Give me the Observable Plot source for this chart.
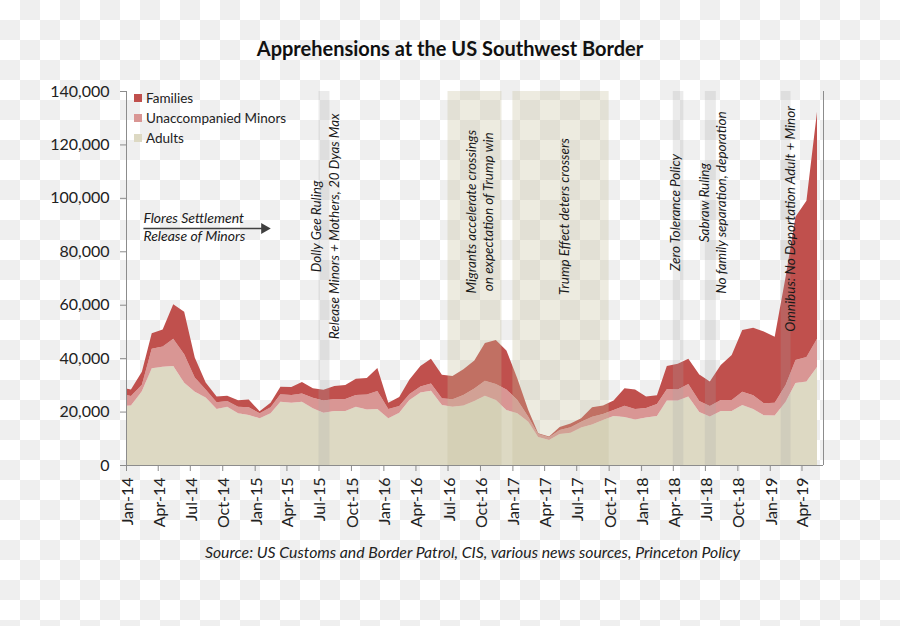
<!DOCTYPE html>
<html>
<head>
<meta charset="utf-8">
<script src="https://cdn.jsdelivr.net/npm/d3@7"></script>
<script src="https://cdn.jsdelivr.net/npm/@observablehq/plot@0.6"></script>
<style>
  html, body { margin: 0; padding: 0; }
  body {
    width: 900px; height: 626px; overflow: hidden;
    background: repeating-conic-gradient(#efefef 0 25%, #ffffff 0 50%) 0 0 / 40px 40px;
    font-family: Lato, "Open Sans", sans-serif; color: #1a1a1a;
  }
  #wrap { position: relative; width: 900px; height: 626px; }
  #title { height: 72px; box-sizing: border-box; padding-top: 36px; line-height: 24px;
    text-align: center; font-weight: bold; font-size: 20px; color: #111; }
  #legend { position: absolute; left: 134px; top: 88px; font-size: 13.5px; color: #222; }
  .item { height: 20px; line-height: 20px; display: flex; align-items: center; }
  .sw { width: 8px; height: 8px; margin-right: 4px; }
  #caption { padding-left: 45px; text-align: center; font-style: italic; font-size: 15.8px;
    line-height: 20px; margin-top: 7px; color: #222; }
  #chart svg { display: block; }
</style>
</head>
<body>
<div id="wrap">
  <div id="title">Apprehensions at the US Southwest Border</div>
  <div id="chart"></div>
  <div id="legend"></div>
  <div id="caption">Source: US Customs and Border Patrol, CIS, various news sources, Princeton Policy</div>
</div>
<script>
// ---- data ----
const months = [
  "2013-12",
  "2014-01","2014-02","2014-03","2014-04","2014-05","2014-06","2014-07","2014-08","2014-09","2014-10","2014-11","2014-12",
  "2015-01","2015-02","2015-03","2015-04","2015-05","2015-06","2015-07","2015-08","2015-09","2015-10","2015-11","2015-12",
  "2016-01","2016-02","2016-03","2016-04","2016-05","2016-06","2016-07","2016-08","2016-09","2016-10","2016-11","2016-12",
  "2017-01","2017-02","2017-03","2017-04","2017-05","2017-06","2017-07","2017-08","2017-09","2017-10","2017-11","2017-12",
  "2018-01","2018-02","2018-03","2018-04","2018-05","2018-06","2018-07","2018-08","2018-09","2018-10","2018-11","2018-12",
  "2019-01","2019-02","2019-03","2019-04","2019-05"
];
const adults = [
  22000,
  22300, 27600, 36200, 36800, 37100, 30800, 27400, 25300, 21000, 21800, 19400, 18700,
  17500, 19400, 23700, 23300, 23700, 21200, 19600, 20200, 20200, 21800, 20800, 21000,
  17500, 19600, 24300, 27100, 27800, 22500, 21800, 22300, 24000, 25900, 24300, 20600,
  19400, 16200, 10500, 9400, 11600, 12100, 14000, 15200, 16800, 18300, 18000, 17000,
  17800, 18300, 24100, 24100, 25600, 19800, 18200, 20200, 20200, 22500, 21000, 18600,
  18500, 23700, 30700, 31300, 36700
];
const minors = [
  4800,
  3500, 2400, 7300, 7600, 10200, 10700, 5400, 3000, 2500, 2200, 2400, 2900,
  1900, 2200, 2800, 2900, 3100, 4000, 4500, 4500, 4500, 4400, 5600, 6700,
  3500, 2500, 2300, 2300, 2700, 2500, 2800, 3900, 4600, 5600, 6000, 7700,
  4900, 1900, 1100, 1000, 1500, 2000, 2200, 2900, 2300, 2300, 4200, 4000,
  3500, 4500, 4300, 4200, 4700, 4200, 3900, 4100, 4100, 4900, 5100, 4500,
  4800, 6200, 8600, 9100, 10600
];
const families = [
  2200,
  2500, 4900, 5800, 6300, 12900, 15900, 7400, 2600, 2100, 1900, 2400, 2900,
  700, 1700, 2800, 3000, 4300, 3500, 4100, 4900, 5200, 6100, 6200, 8600,
  2300, 3400, 5400, 7700, 9300, 8800, 8700, 9600, 10500, 14200, 16500, 14600,
  8100, 2500, 300, 300, 1100, 1400, 1300, 3500, 3200, 3500, 6500, 7300,
  4300, 3300, 8700, 9600, 9500, 9900, 9200, 13100, 16900, 23100, 25300, 26900,
  24700, 40600, 53600, 58500, 84900
];
const seriesNames = ["Adults", "Unaccompanied Minors", "Families"];
const seriesColors = ["#ddd9c3", "#d99694", "#c0504d"];
const legendOrder = ["Families", "Unaccompanied Minors", "Adults"];
const tickLabels = ["Jan-14","Apr-14","Jul-14","Oct-14","Jan-15","Apr-15","Jul-15","Oct-15",
  "Jan-16","Apr-16","Jul-16","Oct-16","Jan-17","Apr-17","Jul-17","Oct-17",
  "Jan-18","Apr-18","Jul-18","Oct-18","Jan-19","Apr-19"];
const yTicks = [0, 20000, 40000, 60000, 80000, 100000, 120000, 140000];
const grayBands = [["2015-07-01","2015-08-01"],["2018-04-01","2018-05-01"],["2018-07-01","2018-08-01"],["2019-02-01","2019-03-01"]];
const beigeBands = [["2016-07-01","2016-12-01"],["2017-01-01","2017-10-01"]];
const notes = [
  {date: "2015-07-16", value: 89500, text: "Dolly Gee Ruling\nRelease Minors + Mothers, 20 Dyas Max"},
  {date: "2016-09-26", value: 95000, text: "Migrants accelerate crossings\non expectation of Trump win"},
  {date: "2017-05-23", value: 93200, text: "Trump Effect deters crossers"},
  {date: "2018-04-04", value: 94700, text: "Zero Tolerance Policy"},
  {date: "2018-07-20", value: 98400, text: "Sabraw Ruling\nNo family separation, deporation"},
  {date: "2019-02-25", value: 92300, text: "Omnibus: No Deportation Adult + Minor"}
];
const flores = {from: "2014-02-18", to: "2015-01-27", value: 88700, top: "Flores Settlement", bottom: "Release of Minors"};

// ---- build ----
const parseMonth = d3.utcParse("%Y-%m");
const parseDay = d3.utcParse("%Y-%m-%d");
const parseLabel = d3.utcParse("%b-%y");
const midMonth = s => { const d = parseMonth(s); return new Date(Date.UTC(d.getUTCFullYear(), d.getUTCMonth(), 15)); };
const valuesBySeries = {"Adults": adults, "Unaccompanied Minors": minors, "Families": families};
const rows = [];
for (const s of seriesNames) {
  months.forEach((m, j) => rows.push({date: midMonth(m), series: s, value: valuesBySeries[s][j]}));
}
const ticks = tickLabels.map(l => ({label: l, date: parseLabel(l)}));
const xStart = parseDay("2014-01-01"), xEnd = parseDay("2019-06-01");
const band = b => ({start: parseDay(b[0]), end: parseDay(b[1])});
const axisGray = "#8c8c8c";
const floresRow = {x1: parseDay(flores.from), x2: parseDay(flores.to), y: flores.value};

const chart = Plot.plot({
  width: 900, height: 463,
  marginLeft: 126, marginRight: 77, marginTop: 19, marginBottom: 70,
  style: {background: "transparent", fontFamily: "Lato, 'Open Sans', sans-serif", overflow: "visible"},
  x: {type: "utc", domain: [xStart, xEnd]},
  y: {domain: [0, 140000]},
  color: {domain: seriesNames, range: seriesColors},
  marks: [
    Plot.areaY(rows, {x: "date", y: "value", z: "series", fill: "series", order: seriesNames, clip: true}),
    Plot.rect(beigeBands.map(band), {x1: "start", x2: "end", fill: "#c4bd97", fillOpacity: 0.3}),
    Plot.rect(grayBands.map(band), {x1: "start", x2: "end", fill: "#a6a6a6", fillOpacity: 0.22}),
    Plot.ruleX([xStart], {stroke: axisGray}),
    Plot.ruleX([xEnd], {stroke: axisGray}),
    Plot.ruleY([0], {stroke: axisGray}),
    Plot.axisY({ticks: yTicks, tickFormat: d3.format(","), tickSize: 6, tickPadding: 11,
      fontSize: 16, stroke: axisGray, fill: "#222", label: null}),
    Plot.axisX({ticks: ticks.map(t => t.date), tickSize: 6, tickFormat: () => "", stroke: axisGray, label: null}),
    Plot.text(ticks, {x: "date", frameAnchor: "bottom", text: "label", rotate: -90, textAnchor: "end",
      dy: 12, dx: 6.5, fontSize: 16, fill: "#222"}),
    Plot.text(notes, {x: d => parseDay(d.date), y: "value", text: "text", rotate: -90,
      fontStyle: "italic", fontSize: 13.5, lineHeight: 1.3, fill: "#1a1a1a"}),
    Plot.link([floresRow], {x1: "x1", x2: "x2", y1: "y", y2: "y", stroke: "#404040", strokeWidth: 1.6}),
    Plot.dot([floresRow], {x: "x2", y: "y", symbol: "triangle", rotate: 90, r: 4.1, fill: "#404040"}),
    Plot.text([floresRow], {x: "x1", y: "y", text: () => flores.top, textAnchor: "start", dy: -10,
      fontStyle: "italic", fontSize: 14, fill: "#1a1a1a"}),
    Plot.text([floresRow], {x: "x1", y: "y", text: () => flores.bottom, textAnchor: "start", dy: 8,
      fontStyle: "italic", fontSize: 14, fill: "#1a1a1a"})
  ]
});
document.getElementById("chart").appendChild(chart);

const legend = document.getElementById("legend");
for (const name of legendOrder) {
  const item = document.createElement("div");
  item.className = "item";
  const sw = document.createElement("span");
  sw.className = "sw";
  sw.style.background = seriesColors[seriesNames.indexOf(name)];
  const label = document.createElement("span");
  label.textContent = name;
  item.appendChild(sw); item.appendChild(label);
  legend.appendChild(item);
}
</script>
</body>
</html>
